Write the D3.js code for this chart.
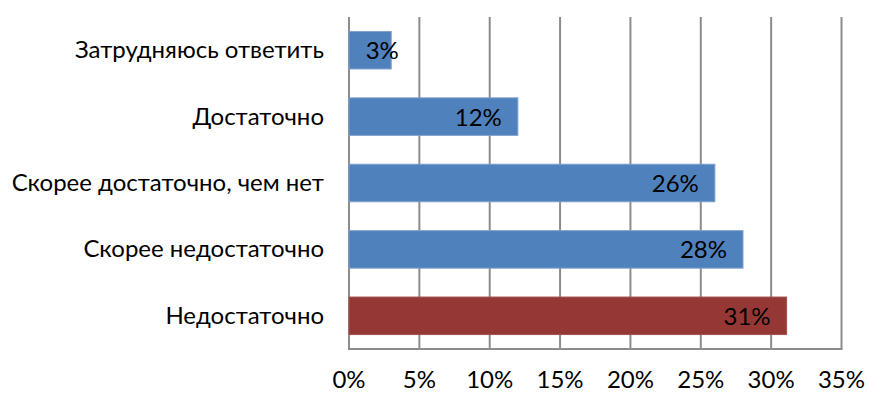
<!DOCTYPE html>
<html><head><meta charset="utf-8">
<script src="https://cdn.jsdelivr.net/npm/d3@7"></script>
<style>html,body{margin:0;padding:0;background:#fff;}svg{display:block;}</style>
</head><body>
<svg id="c" width="869" height="394"></svg>
<script>
const categories = ["Затрудняюсь ответить","Достаточно","Скорее достаточно, чем нет","Скорее недостаточно","Недостаточно"];
const values = [3, 12, 26, 28, 31.1];
const valueLabels = ["3%","12%","26%","28%","31%"];
const barColors = ["#4F81BD","#4F81BD","#4F81BD","#4F81BD","#953735"];
const tickValues = [0,5,10,15,20,25,30,35];
const tickLabels = ["0%","5%","10%","15%","20%","25%","30%","35%"];

const FONT = "Lato, Calibri, 'Open Sans', sans-serif";
const FS = 24;
const svg = d3.select("#c");
const x0 = 349, x1 = 841.5, yTop = 17, yBot = 349;
const x = d3.scaleLinear().domain([0,35]).range([x0,x1]);
const y = d3.scaleBand().domain(categories).range([yTop,yBot]).paddingInner(0.435).paddingOuter(0.2175);

// gridlines
svg.append("g").selectAll("line").data(tickValues).join("line")
  .attr("x1", d=>x(d)).attr("x2", d=>x(d)).attr("y1", yTop).attr("y2", yBot)
  .attr("stroke","#8c8c8c").attr("stroke-width",2);
// bottom axis line
svg.append("line").attr("x1",x0-1).attr("x2",x1+1).attr("y1",yBot).attr("y2",yBot)
  .attr("stroke","#8c8c8c").attr("stroke-width",2);

// bars
svg.append("g").selectAll("rect").data(categories).join("rect")
  .attr("x", x0).attr("y", d=>y(d))
  .attr("width", (d,i)=>x(values[i])-x0).attr("height", y.bandwidth())
  .attr("fill", (d,i)=>barColors[i])
  .attr("stroke", (d,i)=> i===4 ? "#a5504e" : "#7ea0cc").attr("stroke-width",1);

// category labels
svg.append("g").selectAll("text").data(categories).join("text")
  .attr("x", x0-25).attr("y", d=>y(d)+y.bandwidth()/2+8)
  .attr("text-anchor","end").attr("font-family",FONT).attr("font-size",FS).attr("fill","#000")
  .text(d=>d);

// value labels
const vl = svg.append("g").selectAll("text").data(categories).join("text")
  .attr("y", d=>y(d)+y.bandwidth()/2+9)
  .attr("font-family",FONT).attr("font-size",FS).attr("fill","#000")
  .text((d,i)=>valueLabels[i]);
vl.each(function(d,i){
  const w = this.getComputedTextLength();
  const start = Math.max(x(values[i]) - 16 - w, x0 + 16.7);
  d3.select(this).attr("x", start);
});

// x tick labels
svg.append("g").selectAll("text").data(tickValues).join("text")
  .attr("x", d=>x(d)).attr("y", 388)
  .attr("text-anchor","middle").attr("font-family",FONT).attr("font-size",FS).attr("fill","#000")
  .text((d,i)=>tickLabels[i]);
</script>
</body></html>
